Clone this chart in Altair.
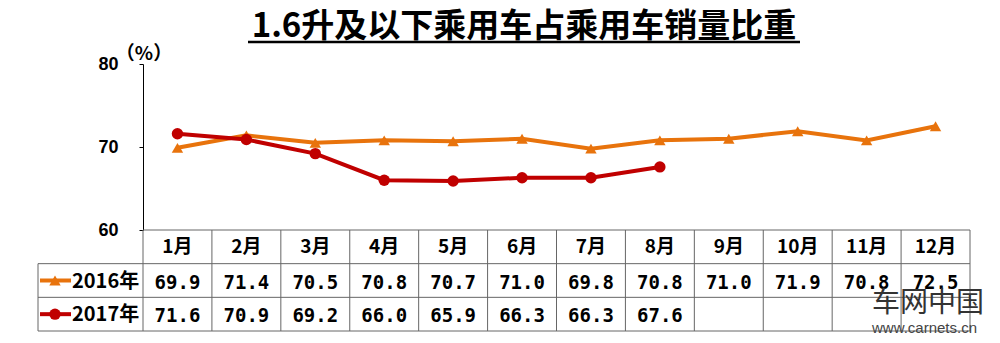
import altair as alt
import pandas as pd

months = ["1月", "2月", "3月", "4月", "5月", "6月", "7月", "8月", "9月", "10月", "11月", "12月"]
vals_2016 = [69.9, 71.4, 70.5, 70.8, 70.7, 71.0, 69.8, 70.8, 71.0, 71.9, 70.8, 72.5]
vals_2017 = [71.6, 70.9, 69.2, 66.0, 65.9, 66.3, 66.3, 67.6]
series = ["2016年", "2017年"]
y_ticks = [60, 70, 80]
title_text = "1.6升及以下乘用车占乘用车销量比重"
unit_text = "（%）"
wm_main = "车网中国"
wm_sub = "www.carnets.cn"

ORANGE = "#E8730C"
RED = "#C00000"
GRID = "#666666"
W, H, PH = 827, 267, 166
CJK = "Noto Sans CJK SC"

rows = []
for i, v in enumerate(vals_2016):
    rows.append(dict(series=series[0], m=i + 0.5, value=v, r=1.5, label=f"{v:.1f}"))
for i, v in enumerate(vals_2017):
    rows.append(dict(series=series[1], m=i + 0.5, value=v, r=2.5, label=f"{v:.1f}"))
df = pd.DataFrame(rows)
df_months = pd.DataFrame({"month": months, "m": [i + 0.5 for i in range(len(months))], "r": 0.5})
df_vb = pd.DataFrame({"b": list(range(13))})
df_leg = pd.DataFrame({"series": series, "r": [1.5, 2.5]})

xs = alt.Scale(domain=[0, 12], nice=False, zero=False)
ys = alt.Scale(domain=[60, 80], range=[PH, 0], nice=False, zero=False)
ts = alt.Scale(domain=[0, 3], range=[PH, H], nice=False, zero=False)
cs = alt.Scale(domain=series, range=[ORANGE, RED])
ss = alt.Scale(domain=series, range=["triangle-up", "circle"])

base = alt.Chart(df)

lines = base.mark_line(strokeWidth=4).encode(
    x=alt.X("m:Q", scale=xs, axis=None),
    y=alt.Y("value:Q", scale=ys, title=None,
            axis=alt.Axis(values=y_ticks, grid=False, tickSize=4, tickColor="black",
                          domainColor="black", labelFontSize=18, labelFont="Liberation Sans",
                          labelFontWeight="bold", labelColor="black", labelPadding=21)),
    color=alt.Color("series:N", scale=cs, legend=None),
    detail="series:N",
)
points = base.mark_point(filled=True, opacity=1, size=130).encode(
    x=alt.X("m:Q", scale=xs, axis=None),
    y=alt.Y("value:Q", scale=ys, axis=None),
    color=alt.Color("series:N", scale=cs, legend=None),
    shape=alt.Shape("series:N", scale=ss, legend=None),
)

vgrid = alt.Chart(df_vb).mark_rule(color=GRID, strokeWidth=1).encode(
    x=alt.X("b:Q", scale=xs, axis=None), y=alt.value(PH), y2=alt.value(H)
)
hgrid_top = alt.Chart(pd.DataFrame({"r": [0]})).mark_rule(color=GRID, strokeWidth=1).encode(
    y=alt.Y("r:Q", scale=ts, axis=None), x=alt.value(0), x2=alt.value(W)
)
hgrid = alt.Chart(pd.DataFrame({"r": [1, 2, 3]})).mark_rule(color=GRID, strokeWidth=1).encode(
    y=alt.Y("r:Q", scale=ts, axis=None), x=alt.value(-105), x2=alt.value(W)
)
left_border = alt.Chart(pd.DataFrame({"r": [1], "r2": [3]})).mark_rule(color=GRID, strokeWidth=1).encode(
    y=alt.Y("r:Q", scale=ts, axis=None), y2="r2:Q", x=alt.value(-105)
)

month_text = alt.Chart(df_months).mark_text(font=CJK, fontSize=19, fontWeight="bold", color="black",
                                            baseline="middle").encode(
    x=alt.X("m:Q", scale=xs, axis=None), y=alt.Y("r:Q", scale=ts, axis=None), text="month:N"
)
value_text = base.mark_text(font="DejaVu Sans Mono", fontSize=19, fontWeight="bold", color="black",
                            baseline="middle", dy=2).encode(
    x=alt.X("m:Q", scale=xs, axis=None), y=alt.Y("r:Q", scale=ts, axis=None), text="label:N"
)

leg_line = alt.Chart(df_leg).mark_rule(strokeWidth=4).encode(
    y=alt.Y("r:Q", scale=ts, axis=None), x=alt.value(-103), x2=alt.value(-72),
    color=alt.Color("series:N", scale=cs, legend=None),
)
leg_pt = alt.Chart(df_leg).mark_point(filled=True, opacity=1, size=130).encode(
    y=alt.Y("r:Q", scale=ts, axis=None), x=alt.value(-88),
    color=alt.Color("series:N", scale=cs, legend=None),
    shape=alt.Shape("series:N", scale=ss, legend=None),
)
leg_text = alt.Chart(df_leg).mark_text(font=CJK, fontSize=20, fontWeight="bold", color="black",
                                       align="left", baseline="middle", dy=1).encode(
    y=alt.Y("r:Q", scale=ts, axis=None), x=alt.value(-71), text="series:N"
)

title = alt.Chart(pd.DataFrame({"t": [title_text]})).mark_text(
    font=CJK, fontSize=33, fontWeight="bold", color="black", baseline="middle", align="center"
).encode(text="t:N", x=alt.value(381), y=alt.value(-37))
underline = alt.Chart(pd.DataFrame({"t": [0]})).mark_rule(color="black", strokeWidth=2.5).encode(
    x=alt.value(105), x2=alt.value(657), y=alt.value(-22)
)
unit = alt.Chart(pd.DataFrame({"t": [unit_text]})).mark_text(
    font=CJK, fontSize=19, fontWeight="bold", color="black", baseline="middle", align="center"
).encode(text="t:N", x=alt.value(1), y=alt.value(-10))

wm1 = alt.Chart(pd.DataFrame({"t": [wm_main]})).mark_text(
    font=CJK, fontSize=28, color="#333333", baseline="middle", align="left"
).encode(text="t:N", x=alt.value(729), y=alt.value(240))
wm2 = alt.Chart(pd.DataFrame({"t": [wm_sub]})).mark_text(
    font="Liberation Sans", fontSize=15, color="#444444", baseline="middle", align="left"
).encode(text="t:N", x=alt.value(729), y=alt.value(264))

chart = alt.layer(
    vgrid, hgrid_top, hgrid, left_border, lines, points, month_text, value_text,
    leg_line, leg_pt, leg_text, title, underline, unit, wm1, wm2
).resolve_scale(y="independent").properties(
    width=W, height=H, autosize="none",
    padding={"left": 143, "top": 64, "right": 30, "bottom": 12},
    background="white",
).configure_view(stroke=None)

chart.save("out.html", embed_options={"renderer": "svg", "actions": False})
